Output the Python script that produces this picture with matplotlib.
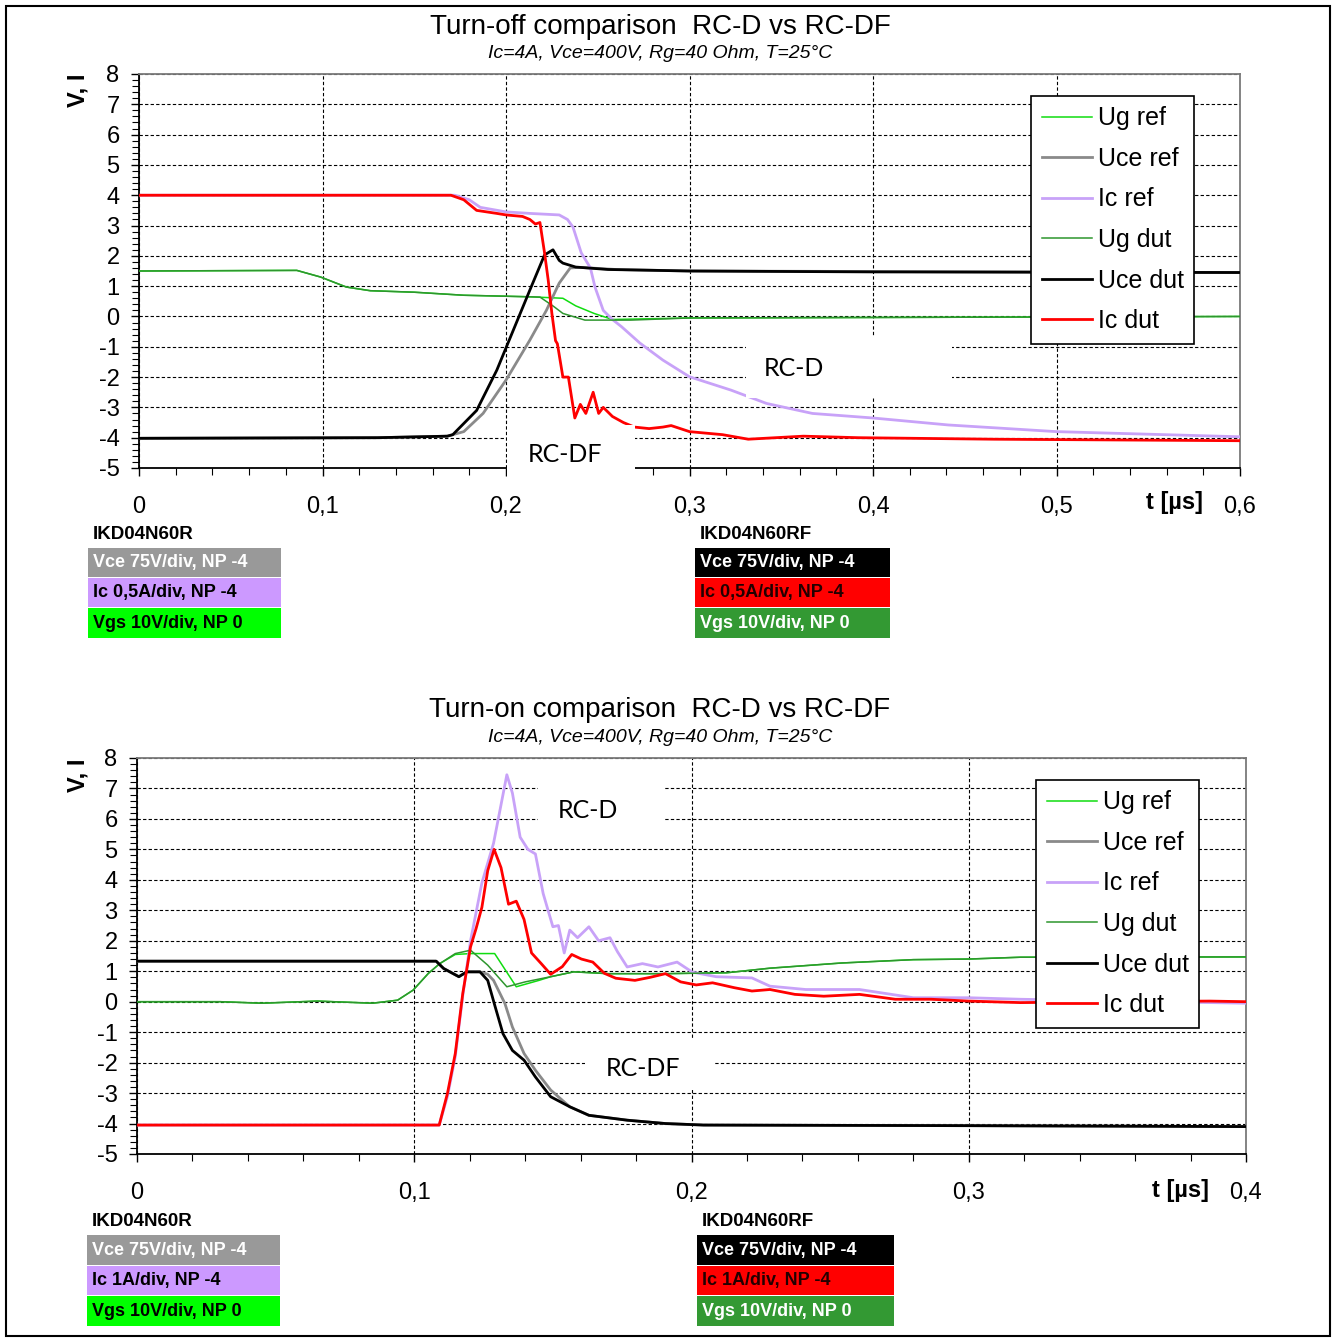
import numpy as np
import matplotlib
matplotlib.use('Agg')
import matplotlib.pyplot as plt
from matplotlib.patches import Rectangle
from matplotlib.lines import Line2D
from matplotlib.ticker import MultipleLocator, FuncFormatter

plt.rcParams['font.family'] = ['Liberation Sans', 'DejaVu Sans']
plt.rcParams['axes.unicode_minus'] = False

# ---------------- data: turn-off (time in us) ----------------
off_t_ug_ref = [0, 0.086, 0.099, 0.113, 0.126, 0.15, 0.177, 0.213, 0.231, 0.238, 0.248, 0.258, 0.30, 0.6]
off_ug_ref   = [1.5, 1.52, 1.3, 0.97, 0.85, 0.8, 0.7, 0.65, 0.6, 0.35, 0.1, -0.1, -0.05, 0.0]
off_t_ug_dut = [0, 0.086, 0.099, 0.113, 0.126, 0.15, 0.177, 0.2185, 0.226, 0.231, 0.243, 0.268, 0.30, 0.6]
off_ug_dut   = [1.5, 1.52, 1.3, 0.97, 0.85, 0.8, 0.7, 0.64, 0.33, 0.1, -0.12, -0.12, -0.05, 0.0]
off_t_uce_ref = [0, 0.13, 0.168, 0.177, 0.1875, 0.2, 0.213, 0.222, 0.229, 0.235, 0.24, 0.26, 0.3, 0.6]
off_uce_ref   = [-4.02, -4.0, -3.95, -3.8, -3.2, -2.1, -0.78, 0.2, 1.1, 1.6, 1.62, 1.55, 1.5, 1.45]
off_t_uce_dut = [0, 0.13, 0.168, 0.171, 0.184, 0.195, 0.204, 0.213, 0.221, 0.2256, 0.229, 0.231, 0.238, 0.2556, 0.30, 0.40, 0.6]
off_uce_dut   = [-4.02, -4.0, -3.95, -3.9, -3.1, -1.77, -0.45, 0.87, 2.03, 2.2, 1.85, 1.76, 1.63, 1.55, 1.5, 1.47, 1.45]
off_t_ic_ref = [0, 0.172, 0.18, 0.186, 0.2, 0.213, 0.229, 0.2335, 0.2365, 0.241, 0.246, 0.2485, 0.253, 0.258,
                0.263, 0.273, 0.2855, 0.30, 0.3226, 0.342, 0.367, 0.40, 0.441, 0.50, 0.6]
off_ic_ref   = [4.0, 4.0, 3.85, 3.6, 3.45, 3.4, 3.35, 3.2, 2.95, 2.1, 1.6, 0.97, 0.2, -0.1,
                -0.34, -0.88, -1.44, -1.99, -2.43, -2.87, -3.2, -3.35, -3.58, -3.8, -3.97]
off_t_ic_dut = [0, 0.17, 0.177, 0.184, 0.195, 0.2, 0.209, 0.213, 0.216, 0.2185, 0.221, 0.223, 0.225, 0.227, 0.228,
                0.231, 0.234, 0.2375, 0.2405, 0.2435, 0.2475, 0.2505, 0.253, 0.258, 0.264, 0.27, 0.278, 0.2855,
                0.29, 0.30, 0.318, 0.332, 0.362, 0.392, 0.466, 0.6]
off_ic_dut   = [4.0, 4.0, 3.85, 3.5, 3.4, 3.35, 3.3, 3.2, 3.05, 3.1, 2.1, 1.2, 0.1, -0.8, -0.9,
                -2.0, -2.0, -3.35, -2.9, -3.2, -2.5, -3.2, -3.0, -3.3, -3.5, -3.65, -3.7, -3.65,
                -3.6, -3.8, -3.9, -4.05, -3.95, -4.0, -4.05, -4.1]

# ---------------- data: turn-on (time in us) ----------------
on_t_ug_ref = [0, 0.03, 0.045, 0.065, 0.085, 0.094, 0.0996, 0.1051, 0.1092, 0.1148, 0.1203, 0.129, 0.1368,
               0.145, 0.1492, 0.1575, 0.17, 0.1906, 0.2127, 0.2283, 0.2541, 0.28, 0.30, 0.3187, 0.4]
on_ug_ref   = [0, 0, -0.05, 0.02, -0.05, 0.05, 0.38, 0.93, 1.25, 1.55, 1.58, 1.58, 0.49,
               0.7, 0.82, 0.98, 0.92, 0.92, 0.95, 1.1, 1.27, 1.38, 1.4, 1.46, 1.47]
on_t_ug_dut = [0, 0.03, 0.045, 0.065, 0.085, 0.094, 0.0996, 0.1051, 0.1092, 0.1148, 0.1203, 0.1265, 0.1334,
               0.14, 0.1492, 0.1575, 0.17, 0.1906, 0.2127, 0.2283, 0.2541, 0.28, 0.30, 0.3187, 0.4]
on_ug_dut   = [0, 0, -0.05, 0.02, -0.05, 0.05, 0.38, 0.93, 1.25, 1.58, 1.69, 1.2, 0.49,
               0.65, 0.82, 0.98, 0.92, 0.92, 0.95, 1.1, 1.27, 1.38, 1.4, 1.46, 1.47]
on_t_uce_ref = [0, 0.1079, 0.1106, 0.1161, 0.1189, 0.1237, 0.1265, 0.1286, 0.1327, 0.1354, 0.1396, 0.1437,
                0.1492, 0.1561, 0.163, 0.1768, 0.1906, 0.2044, 0.3, 0.4]
on_uce_ref   = [1.33, 1.33, 1.09, 0.82, 0.98, 0.98, 0.9, 0.7, -0.06, -0.83, -1.7, -2.25,
                -2.9, -3.45, -3.73, -3.89, -4.0, -4.05, -4.07, -4.1]
on_t_uce_dut = [0, 0.1079, 0.1106, 0.1161, 0.1189, 0.1237, 0.1265, 0.1292, 0.132, 0.1354, 0.1396, 0.1437,
                0.1492, 0.1561, 0.163, 0.1768, 0.1906, 0.2044, 0.3, 0.4]
on_uce_dut   = [1.33, 1.33, 1.09, 0.82, 0.98, 0.98, 0.7, -0.17, -1.05, -1.6, -1.92, -2.47,
                -3.12, -3.45, -3.73, -3.89, -4.0, -4.05, -4.07, -4.1]
on_t_ic_ref = [0, 0.109, 0.112, 0.1148, 0.1175, 0.1203, 0.1244, 0.1286, 0.1334, 0.1354, 0.1382, 0.141,
               0.1437, 0.1465, 0.15, 0.152, 0.1541, 0.1561, 0.1589, 0.163, 0.1665, 0.1706, 0.1733, 0.1768,
               0.1823, 0.1879, 0.1948, 0.2003, 0.2089, 0.2218, 0.2283, 0.2412, 0.2606, 0.28, 0.30, 0.3187,
               0.35, 0.4]
on_ic_ref   = [-4.05, -4.05, -3.1, -1.8, 0.2, 2.0, 3.9, 5.2, 7.45, 6.85, 5.4, 5.0,
               4.85, 3.55, 2.46, 2.5, 1.6, 2.35, 2.1, 2.46, 2.0, 2.1, 1.64, 1.14,
               1.25, 1.14, 1.3, 0.97, 0.82, 0.78, 0.51, 0.4, 0.4, 0.13, 0.13, 0.08,
               0.03, -0.05]
on_t_ic_dut = [0, 0.109, 0.112, 0.1148, 0.1175, 0.1203, 0.1223, 0.1244, 0.1265, 0.1288, 0.1313, 0.134,
               0.1368, 0.1396, 0.1423, 0.1458, 0.1492, 0.1534, 0.1568, 0.1603, 0.1644, 0.1686, 0.1727,
               0.1796, 0.1851, 0.1906, 0.1961, 0.2017, 0.2076, 0.2154, 0.2218, 0.2283, 0.2373, 0.2477,
               0.2606, 0.2735, 0.2864, 0.30, 0.3187, 0.35, 0.387, 0.4]
on_ic_dut   = [-4.05, -4.05, -3.0, -1.7, 0.27, 1.8, 2.4, 3.1, 4.3, 5.0, 4.4, 3.2,
               3.3, 2.7, 1.6, 1.25, 0.9, 1.15, 1.55, 1.4, 1.3, 0.93, 0.77,
               0.7, 0.8, 0.92, 0.65, 0.55, 0.62, 0.46, 0.35, 0.4, 0.24, 0.18,
               0.24, 0.08, 0.08, 0.02, -0.03, 0.0, 0.02, 0.0]

series_labels = ["Ug ref", "Uce ref", "Ic ref", "Ug dut", "Uce dut", "Ic dut"]
off_xticks = [0, 0.1, 0.2, 0.3, 0.4, 0.5, 0.6]
on_xticks = [0, 0.1, 0.2, 0.3, 0.4]
y_ticks = list(range(-5, 9))

off_ref_info = ["Vce 75V/div, NP -4", "Ic 0,5A/div, NP -4", "Vgs 10V/div, NP 0"]
off_dut_info = ["Vce 75V/div, NP -4", "Ic 0,5A/div, NP -4", "Vgs 10V/div, NP 0"]
on_ref_info = ["Vce 75V/div, NP -4", "Ic 1A/div, NP -4", "Vgs 10V/div, NP 0"]
on_dut_info = ["Vce 75V/div, NP -4", "Ic 1A/div, NP -4", "Vgs 10V/div, NP 0"]

# ---------------- styles ----------------
C_UG_REF = '#10dd10'
C_UG_DUT = '#2e962e'
C_UCE_REF = '#8a8a8a'
C_IC_REF = '#c8a2f8'
C_UCE_DUT = '#000000'
C_IC_DUT = '#ff0000'
colors = [C_UG_REF, C_UCE_REF, C_IC_REF, C_UG_DUT, C_UCE_DUT, C_IC_DUT]
widths = [1.1, 2.0, 2.0, 1.1, 2.0, 2.0]

W, H = 1332, 1340
fig = plt.figure(figsize=(W / 100, H / 100), dpi=100)


def fx(x):
    return x / W


def fy(y):
    return 1 - y / H


def comma(v, pos):
    s = ('%.1f' % v).rstrip('0').rstrip('.')
    return s.replace('.', ',')


def setup_axes(ax, xmax):
    ax.set_xlim(0, xmax)
    ax.set_ylim(-5, 8)
    ax.xaxis.set_major_locator(MultipleLocator(0.1))
    ax.xaxis.set_minor_locator(MultipleLocator(0.02))
    ax.yaxis.set_major_locator(MultipleLocator(1))
    ax.yaxis.set_minor_locator(MultipleLocator(0.2))
    ax.set_yticks(y_ticks)
    ax.xaxis.set_major_formatter(FuncFormatter(comma))
    ax.tick_params(axis='both', which='both', direction='out', color='black')
    ax.tick_params(axis='y', which='major', length=6, width=1, labelsize=17, pad=8)
    ax.tick_params(axis='y', which='minor', length=5, width=0.8)
    ax.tick_params(axis='x', which='major', length=6, width=1, labelsize=17, pad=14)
    ax.tick_params(axis='x', which='minor', length=5, width=0.8)
    ax.grid(True, which='major', axis='both', color='black', linestyle=(0, (3, 2)), linewidth=0.8)
    for side in ['left', 'bottom']:
        ax.spines[side].set_color('black')
        ax.spines[side].set_linewidth(1.3)
    for side in ['top', 'right']:
        ax.spines[side].set_color('#7a7a7a')
        ax.spines[side].set_linewidth(1.3)
    ax.set_facecolor('white')


def white_box(x0, y0, x1, y1):
    fig.add_artist(Rectangle((fx(x0), fy(y1)), fx(x1) - fx(x0), fy(y0) - fy(y1),
                             transform=fig.transFigure, facecolor='white', edgecolor='none', zorder=3))


def info_block(x0, x1, ytitle, title, rows, ylist, faces, tcolors):
    fig.text(fx(x0 + 5), fy(ytitle), title, fontsize=13.5, fontweight='bold', ha='left', va='center', zorder=4)
    for (yt, yb), face, tc, txt in zip(ylist, faces, tcolors, rows):
        fig.add_artist(Rectangle((fx(x0), fy(yb)), fx(x1) - fx(x0), fy(yt) - fy(yb),
                                 transform=fig.transFigure, facecolor=face, edgecolor='none', zorder=3))
        fig.text(fx(x0 + 5), fy((yt + yb) / 2), txt, fontsize=13, fontweight='bold', color=tc,
                 ha='left', va='center', zorder=4)


def draw_chart(ax, series, xmax, xticks):
    setup_axes(ax, xmax)
    ax.set_xticks(xticks)
    handles = []
    for (t, v), c, lw, lab in zip(series, colors, widths, series_labels):
        ln, = ax.plot(t, v, color=c, lw=lw, label=lab, solid_joinstyle='round', zorder=3)
        handles.append(ln)
    return handles


def add_legend(ax, handles, x, y):
    leg = ax.legend(handles=handles, loc='upper left', bbox_to_anchor=(fx(x), fy(y)),
                    bbox_transform=fig.transFigure, fontsize=18, frameon=True, fancybox=False,
                    framealpha=1, edgecolor='black', borderpad=0.42, labelspacing=0.66,
                    handlelength=2.0, handletextpad=0.25, borderaxespad=0)
    leg.get_frame().set_linewidth(1.2)
    leg.set_zorder(6)
    return leg


# ---------------- top chart ----------------
ax1 = fig.add_axes([fx(139), fy(468), fx(1240) - fx(139), fy(74) - fy(468)])
off_series = [(off_t_ug_ref, off_ug_ref), (off_t_uce_ref, off_uce_ref), (off_t_ic_ref, off_ic_ref),
              (off_t_ug_dut, off_ug_dut), (off_t_uce_dut, off_uce_dut), (off_t_ic_dut, off_ic_dut)]
h1 = draw_chart(ax1, off_series, 0.6, off_xticks)
add_legend(ax1, h1, 1031, 96)

# ---------------- bottom chart ----------------
ax2 = fig.add_axes([fx(137), fy(1154), fx(1246) - fx(137), fy(758) - fy(1154)])
on_series = [(on_t_ug_ref, on_ug_ref), (on_t_uce_ref, on_uce_ref), (on_t_ic_ref, on_ic_ref),
             (on_t_ug_dut, on_ug_dut), (on_t_uce_dut, on_uce_dut), (on_t_ic_dut, on_ic_dut)]
h2 = draw_chart(ax2, on_series, 0.4, on_xticks)
add_legend(ax2, h2, 1036, 780)

# ---------------- titles and labels ----------------
fig.text(fx(660), fy(27), "Turn-off comparison  RC-D vs RC-DF", fontsize=20, ha='center', va='center')
fig.text(fx(660), fy(54), "Ic=4A, Vce=400V, Rg=40 Ohm, T=25°C", fontsize=14, style='italic', ha='center', va='center')
fig.text(fx(660), fy(710), "Turn-on comparison  RC-D vs RC-DF", fontsize=20, ha='center', va='center')
fig.text(fx(660), fy(737), "Ic=4A, Vce=400V, Rg=40 Ohm, T=25°C", fontsize=14, style='italic', ha='center', va='center')

for ylab in [90, 775]:
    fig.text(fx(78), fy(ylab), "V, I", fontsize=17, fontweight='bold', rotation=90, ha='center', va='center')
fig.text(fx(1175), fy(503), "t [µs]", fontsize=17, fontweight='bold', ha='center', va='center')
fig.text(fx(1180), fy(1190), "t [µs]", fontsize=17, fontweight='bold', ha='center', va='center')

# annotations with white backgrounds
white_box(746, 336, 952, 398)
fig.text(fx(794), fy(369), "RC-D", fontsize=18, family=['Lato', 'DejaVu Sans'], ha='center', va='center', zorder=4)
white_box(507, 425, 635, 486)
fig.text(fx(565), fy(455), "RC-DF", fontsize=18, family=['Lato', 'DejaVu Sans'], ha='center', va='center', zorder=4)
white_box(538, 775, 665, 840)
fig.text(fx(588), fy(810), "RC-D", fontsize=18, family=['Lato', 'DejaVu Sans'], ha='center', va='center', zorder=4)
white_box(585, 1040, 714, 1090)
fig.text(fx(643), fy(1068), "RC-DF", fontsize=18, family=['Lato', 'DejaVu Sans'], ha='center', va='center', zorder=4)

# info blocks
ref_faces = ['#999999', '#cc99ff', '#00ff00']
ref_tc = ['white', 'black', 'black']
dut_faces = ['#000000', '#ff0000', '#339933']
dut_tc = ['white', '#220000', 'white']
info_block(88, 281, 534, "IKD04N60R", off_ref_info, [(548, 577), (578, 607), (608, 638)], ref_faces, ref_tc)
info_block(695, 890, 534, "IKD04N60RF", off_dut_info, [(548, 577), (578, 607), (608, 638)], dut_faces, dut_tc)
info_block(87, 280, 1221, "IKD04N60R", on_ref_info, [(1235, 1265), (1266, 1295), (1296, 1326)], ref_faces, ref_tc)
info_block(697, 894, 1221, "IKD04N60RF", on_dut_info, [(1235, 1265), (1266, 1295), (1296, 1326)], dut_faces, dut_tc)

# outer border
fig.add_artist(Rectangle((fx(6), fy(1336)), fx(1330) - fx(6), fy(6) - fy(1336), transform=fig.transFigure,
                         fill=False, edgecolor='black', linewidth=1.5, zorder=5))

fig.savefig('out.png', dpi=100, facecolor='white')
